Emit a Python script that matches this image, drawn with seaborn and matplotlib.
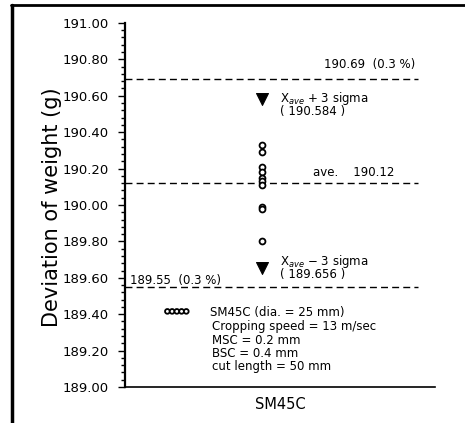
import matplotlib
matplotlib.use("Agg")
import matplotlib.pyplot as plt
from matplotlib.lines import Line2D
from matplotlib.ticker import MultipleLocator
import seaborn as sns
import pandas as pd

# ---- data ----
categories = ["SM45C"]
weights = [190.33, 190.29, 190.21, 190.18, 190.15, 190.13, 190.11,
           189.99, 189.98, 189.80]
sigma_values = [190.584, 189.656]
sigma_labels = ["X$_{ave}$ + 3 sigma\n( 190.584 )",
                "X$_{ave}$ \u2212 3 sigma\n( 189.656 )"]
average = 190.12
limits = [190.69, 189.55]
limit_labels = ["190.69  (0.3 %)", "189.55  (0.3 %)"]
ylabel = "Deviation of weight (g)"
legend_title = "SM45C (dia. = 25 mm)"
conditions = ["Cropping speed = 13 m/sec", "MSC = 0.2 mm",
              "BSC = 0.4 mm", "cut length = 50 mm"]
y_ticks = [189.00, 189.20, 189.40, 189.60, 189.80, 190.00,
           190.20, 190.40, 190.60, 190.80, 191.00]

# ---- layout ----
sns.set_style("white")
plt.rcParams['font.family'] = ['DejaVu Sans']
plt.rcParams.update({"text.color": "black", "axes.labelcolor": "black",
                     "xtick.color": "black", "ytick.color": "black"})
fig = plt.figure(figsize=(4.65, 4.23), dpi=100)
ax = fig.add_axes([0.269, 0.085, 0.667, 0.861])

PT_X = -0.12
df = pd.DataFrame({"x": [PT_X] * len(weights), "w": weights})
dfs = pd.DataFrame({"x": [PT_X] * len(sigma_values), "w": sigma_values})

sns.scatterplot(data=df, x="x", y="w", ax=ax, marker="o", s=18,
                facecolor="white", edgecolor="black", linewidth=1.3,
                label=legend_title, zorder=3)
sns.scatterplot(data=dfs, x="x", y="w", ax=ax, marker="v", s=75,
                color="black", edgecolor="black", zorder=3, legend=False)

# dashed reference lines
for v in limits + [average]:
    ax.axhline(v, xmin=0, xmax=0.945, color="black", ls=(0, (5, 3)), lw=1.0)

fs = 8.5
ax.text(0.28, 190.77, limit_labels[0], fontsize=fs, va="center", ha="left")
ax.text(-0.97, 189.585, limit_labels[1], fontsize=fs, va="center", ha="left")
ax.text(0.21, 190.18, f"ave.    {average:.2f}", fontsize=fs, va="center", ha="left")
ax.text(0.0, 190.555, sigma_labels[0], fontsize=fs, va="center", ha="left",
        linespacing=0.85)
ax.text(0.0, 189.66, sigma_labels[1], fontsize=fs, va="center", ha="left",
        linespacing=0.85)

for i, c in enumerate(conditions):
    ax.text(-0.44, 189.33 - 0.072 * i, c, fontsize=fs, va="center", ha="left")

ax.legend(loc="center left", bbox_to_anchor=(0.125, 0.206), frameon=False,
          scatterpoints=5, scatteryoffsets=[0.5], fontsize=fs, markerscale=0.8,
          handlelength=2.2, handletextpad=1.7, borderpad=0, borderaxespad=0)

ax.set_xlim(-1, 1)
ax.set_ylim(189.0, 191.0)
ax.set_xticks([0])
ax.set_xticklabels(categories, fontsize=10.5)
ax.set_yticks(y_ticks)
ax.set_yticklabels([f"{t:.2f}" for t in y_ticks], fontsize=9.5)
ax.yaxis.set_minor_locator(MultipleLocator(0.04))
ax.tick_params(axis="y", which="major", direction="out", length=5, width=1,
               left=True, pad=7)
ax.tick_params(axis="y", which="minor", direction="out", length=3, width=1,
               left=True)
ax.tick_params(axis="x", length=0, pad=7)
ax.set_xlabel("")
ax.set_ylabel(ylabel, fontsize=15)
ax.yaxis.set_label_coords(-0.203, 0.495)

for s in ["top", "right"]:
    ax.spines[s].set_visible(False)
ax.spines["left"].set_linewidth(1.6)
ax.spines["bottom"].set_linewidth(1.2)
ax.spines["left"].set_color("black")
ax.spines["bottom"].set_color("black")

# scanned page frame
fig.add_artist(Line2D([0.024, 1.0], [0.988, 0.988], color="black", lw=2,
                      transform=fig.transFigure))
fig.add_artist(Line2D([0.026, 0.026], [0.0, 0.988], color="black", lw=2.5,
                      transform=fig.transFigure))

fig.savefig("out.png", dpi=100)
